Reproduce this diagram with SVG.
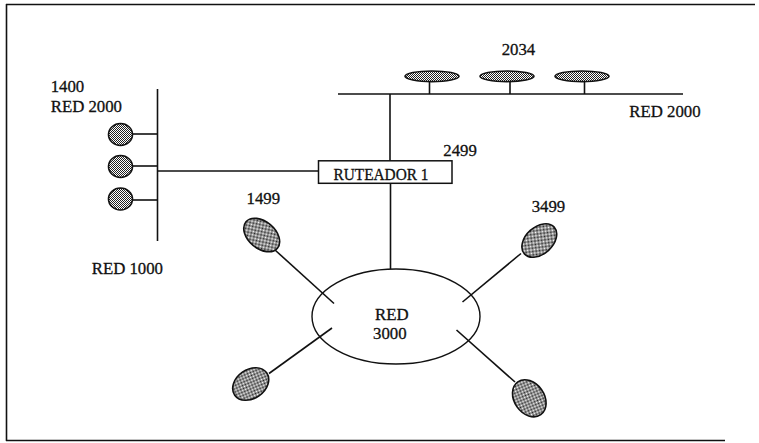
<svg xmlns="http://www.w3.org/2000/svg" width="759" height="443" viewBox="0 0 759 443">
<defs>
<pattern id="stip" width="2" height="2" patternUnits="userSpaceOnUse">
<rect width="2" height="2" fill="#ffffff"/>
<rect width="1" height="1" fill="#222"/>
<rect x="1" y="1" width="1" height="1" fill="#222"/>
</pattern>
</defs>
<style>
.ln{stroke:#111;stroke-width:1.6;fill:none}
.host{fill:url(#stip);stroke:#111;stroke-width:1.6}
.lbl{font-family:"Liberation Serif","Times New Roman",serif;font-size:16.8px;fill:#111;stroke:#111;stroke-width:0.3}
.box{fill:#fff;stroke:#111;stroke-width:1.5}
</style>
<rect width="759" height="443" fill="#fff"/>
<g id="frame" class="ln">
<line x1="6" y1="4.5" x2="755" y2="4.5"/>
<line x1="6.5" y1="4" x2="6.5" y2="441"/>
<line x1="6" y1="440.5" x2="725" y2="440.5"/>
</g>
<g id="connectors" class="ln">
<line x1="157.5" y1="89" x2="157.5" y2="241"/>
<line x1="132" y1="134" x2="157.5" y2="134"/>
<line x1="132" y1="166" x2="157.5" y2="166"/>
<line x1="132" y1="200" x2="157.5" y2="200"/>
<line x1="157.5" y1="171" x2="318.5" y2="171"/>
<line x1="338" y1="94" x2="683" y2="94"/>
<line x1="429.5" y1="81" x2="429.5" y2="94"/>
<line x1="510" y1="81" x2="510" y2="94"/>
<line x1="584.5" y1="81" x2="584.5" y2="94"/>
<line x1="390" y1="94" x2="390" y2="161"/>
<line x1="390.5" y1="183" x2="390.5" y2="269"/>
<line x1="275" y1="250" x2="334" y2="303.5"/>
<line x1="269" y1="373.5" x2="332" y2="328"/>
<line x1="521" y1="253.5" x2="462.5" y2="302"/>
<line x1="456.5" y1="330" x2="515" y2="382"/>
</g>
<g id="red1000-hosts">
<ellipse class="host" cx="120.5" cy="134.5" rx="12" ry="11"/>
<ellipse class="host" cx="120.5" cy="166.5" rx="12" ry="11"/>
<ellipse class="host" cx="120.5" cy="199" rx="12" ry="11"/>
</g>
<g id="red2000-hosts">
<ellipse class="host" cx="432" cy="76.3" rx="27" ry="5.3"/>
<ellipse class="host" cx="507" cy="76.3" rx="27" ry="5.3"/>
<ellipse class="host" cx="582" cy="76.3" rx="27" ry="5.3"/>
</g>
<g id="ruteador">
<rect class="box" x="318.5" y="160.8" width="133.5" height="22.5"/>
<text class="lbl" x="333.5" y="180" font-size="13" textLength="95" lengthAdjust="spacingAndGlyphs">RUTEADOR 1</text>
</g>
<g id="red3000">
<ellipse cx="396" cy="316.5" rx="84" ry="47.5" fill="none" stroke="#111" stroke-width="1.4"/>
<text class="lbl" x="375" y="320">RED</text>
<text class="lbl" x="373" y="339">3000</text>
</g>
<g id="red3000-hosts">
<ellipse class="host" cx="0" cy="0" rx="20.5" ry="13.5" transform="translate(261.7 235) rotate(40)"/>
<ellipse class="host" cx="0" cy="0" rx="19.5" ry="14.5" transform="translate(250.7 384) rotate(-35)"/>
<ellipse class="host" cx="0" cy="0" rx="20" ry="13.5" transform="translate(539.3 240.5) rotate(-42)"/>
<ellipse class="host" cx="0" cy="0" rx="20" ry="15" transform="translate(529.3 398.3) rotate(55)"/>
</g>
<g id="labels">
<text class="lbl" x="50.7" y="92">1400</text>
<text class="lbl" x="50.7" y="112.3">RED 2000</text>
<text class="lbl" x="246.5" y="204">1499</text>
<text class="lbl" x="501.7" y="55">2034</text>
<text class="lbl" x="629.3" y="116.7">RED 2000</text>
<text class="lbl" x="443.3" y="155.7">2499</text>
<text class="lbl" x="531.7" y="211.7">3499</text>
<text class="lbl" x="91.7" y="274">RED 1000</text>
</g>
</svg>
